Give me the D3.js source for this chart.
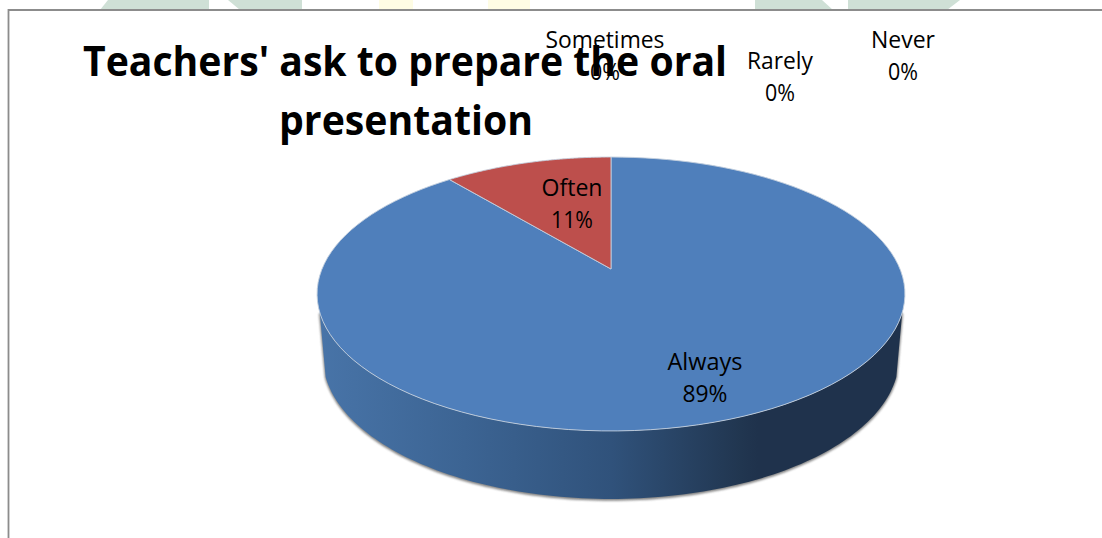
<!DOCTYPE html>
<html><head><meta charset="utf-8">
<script src="https://cdnjs.cloudflare.com/ajax/libs/d3/7.8.5/d3.min.js"></script>
<style>html,body{margin:0;padding:0;background:#fff}svg{display:block}text{font-family:"Open Sans",sans-serif;fill:#000}</style>
</head><body><svg id="c" width="1102" height="538"></svg>
<script>
const categories=["Always","Often","Sometimes","Rarely","Never"];
const values=[89,11,0,0,0];
const percentLabels=["89%","11%","0%","0%","0%"];
const titleLines=["Teachers' ask to prepare the oral","presentation"];
const colors=["#4f7fbb","#bd4f4c","#9bbb59","#8064a2","#4bacc6"];

const svg=d3.select("#c");
const defs=svg.append("defs");
const cx=611,K=289,A=83.3,B=269,C=-0.1825;
const project=(angle,r=1)=>{const u=Math.sin(angle)*r,v=-Math.cos(angle)*r,d=1+C*v;return [cx+K*u/d,(A*v+B)/d];};
const lower=p=>[cx+(p[0]-cx)*288/294,358+(p[1]-294)*141/137];
const line=d3.line();
const arcPts=(a0,a1,fn=p=>p)=>d3.range(0,121).map(i=>fn(project(a0+(a1-a0)*i/120)));

// pale watermark showing above the frame
[
 {p:[[108,0],[100,10],[209,10],[209,0]],c:"#cfe0d6"},
 {p:[[228,0],[240,10],[302,10],[302,0]],c:"#cfe0d6"},
 {p:[[379,0],[379,10],[413,10],[413,0]],c:"#fefce4"},
 {p:[[488,0],[488,10],[530,10],[530,0]],c:"#fefce4"},
 {p:[[755,0],[755,10],[833,10],[822,0]],c:"#cfe0d6"},
 {p:[[848,0],[848,10],[947,10],[960,0]],c:"#cfe0d6"}
].forEach(w=>svg.append("path").attr("d",line(w.p)+"Z").attr("fill",w.c));

// frame
svg.append("path").attr("d",line([[1102,10],[8.5,10],[8.5,538]])).attr("fill","none").attr("stroke","#8c8c8c").attr("stroke-width",1.8);

// side wall
const grad=defs.append("linearGradient").attr("id","wall").attr("gradientUnits","userSpaceOnUse").attr("x1",318).attr("x2",905).attr("y1",0).attr("y2",0);
[[0,"#4874a8"],[0.25,"#3c6493"],[0.5,"#30527b"],[0.72,"#213650"],[0.75,"#1f324c"],[1,"#1f324c"]].forEach(s=>grad.append("stop").attr("offset",s[0]).attr("stop-color",s[1]));
defs.append("filter").attr("id","sh").attr("x","-5%").attr("y","-5%").attr("width","110%").attr("height","110%").append("feGaussianBlur").attr("stdDeviation",1.1);
const a0=Math.PI*108/180,a1=Math.PI*252/180;
const wallPts=arcPts(a0,a1).concat(arcPts(a1,a0,lower));
svg.append("path").attr("d",line(wallPts)+"Z").attr("fill","#666").attr("stroke","#666").attr("stroke-width",1.6).attr("opacity",.8).attr("filter","url(#sh)").attr("transform","translate(0,1)");
svg.append("path").attr("d",line(wallPts)+"Z").attr("fill","url(#wall)");

// top face
const pie=d3.pie().sort(null).value(d=>d)(values);
pie.forEach((s,i)=>{
 if(s.endAngle-s.startAngle<=0) return;
 const pts=[project(0,0)].concat(arcPts(s.startAngle,s.endAngle));
 svg.append("path").attr("d",line(pts)+"Z").attr("fill",colors[i]).attr("stroke","#c3cfde").attr("stroke-width",.9).attr("stroke-linejoin","round");
});

// title
const tl=[[405,76,644],[406,135,254]];
titleLines.forEach((t,i)=>svg.append("text").attr("x",tl[i][0]).attr("y",tl[i][1]).attr("text-anchor","middle").attr("font-size",41).attr("font-weight",700).attr("textLength",tl[i][2]).attr("lengthAdjust","spacingAndGlyphs").text(t));

// data labels
const labelPos=[[705,370,402],[572,196,228],[605,48,80],[780,69,101],[903,48,80]];
const labelW=[[75,45],[61,42],[119,30],[66,30],[64,30]];
categories.forEach((c,i)=>{
 const g=svg.append("g");
 g.append("text").attr("x",labelPos[i][0]).attr("y",labelPos[i][1]).attr("text-anchor","middle").attr("font-size",23).attr("textLength",labelW[i][0]).attr("lengthAdjust","spacingAndGlyphs").text(c);
 g.append("text").attr("x",labelPos[i][0]).attr("y",labelPos[i][2]).attr("text-anchor","middle").attr("font-size",23).attr("textLength",labelW[i][1]).attr("lengthAdjust","spacingAndGlyphs").text(percentLabels[i]);
});
</script></body></html>
